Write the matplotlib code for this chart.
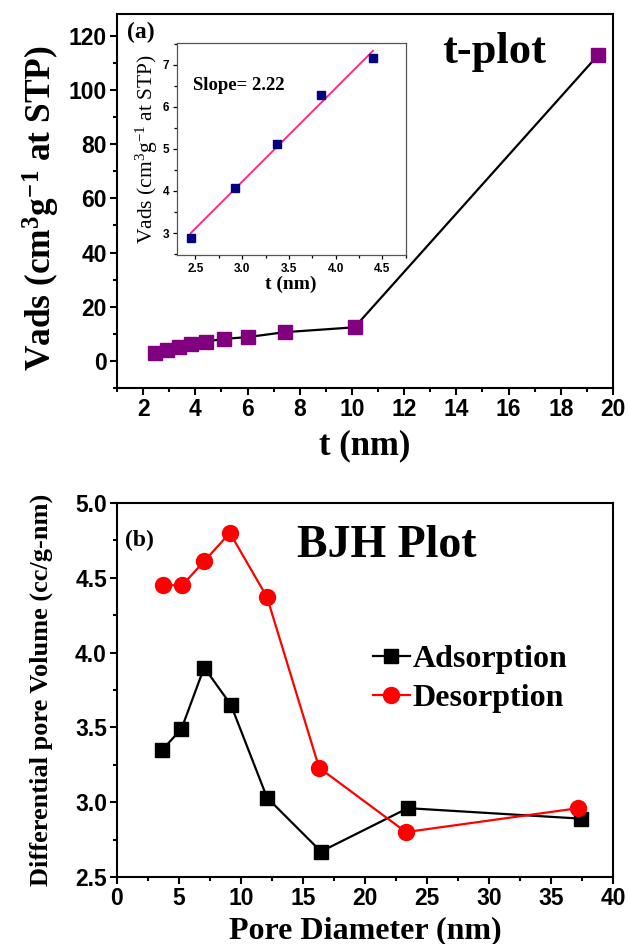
import numpy as np
import matplotlib
matplotlib.use("Agg")
import matplotlib.pyplot as plt
from matplotlib.ticker import MultipleLocator, FormatStrFormatter

# t-plot data (main panel)
t_nm = [2.45, 2.92, 3.37, 3.84, 4.40, 5.08, 6.02, 7.42, 10.1, 19.42]
v_ads = [2.88, 4.07, 5.12, 6.28, 7.15, 8.1, 8.8, 10.6, 12.4, 112.8]

# inset: linear region of the t-plot
t_fit = [2.45, 2.92, 3.37, 3.84, 4.40]
v_fit = [2.88, 4.07, 5.12, 6.28, 7.15]

# BJH data
d_ads = [3.65, 5.2, 7.03, 9.19, 12.1, 16.45, 23.45, 37.4]
pv_ads = [3.35, 3.49, 3.90, 3.65, 3.03, 2.67, 2.96, 2.89]
d_des = [3.7, 5.26, 7.03, 9.1, 12.1, 16.3, 23.3, 37.2]
pv_des = [4.45, 4.45, 4.61, 4.80, 4.37, 3.23, 2.80, 2.96]

plt.rcParams['mathtext.fontset'] = 'custom'
plt.rcParams['mathtext.rm'] = 'Liberation Serif'
plt.rcParams['mathtext.bf'] = 'Liberation Serif:bold'
plt.rcParams['mathtext.it'] = 'Liberation Serif:italic'

SERIF = 'Liberation Serif'
SANS = 'Liberation Sans'


def style_axes(ax, tick_size, lw=1.5, major=4.7, minor=3):
    for s in ax.spines.values():
        s.set_linewidth(lw)
    ax.tick_params(which='both', direction='out', top=False, right=False, width=lw)
    ax.tick_params(which='major', length=major, pad=2.5)
    ax.tick_params(which='minor', length=minor)
    for lab in ax.get_xticklabels() + ax.get_yticklabels():
        lab.set_fontfamily(SANS)
        lab.set_fontweight('bold')
        lab.set_fontsize(tick_size)


fig = plt.figure(figsize=(6.29, 9.44), dpi=100)

# ---- (a) t-plot ----
ax1 = fig.add_axes([0.186, 0.589, 0.7886, 0.396])
ax1.plot(t_nm, v_ads, color='black', lw=1.6, marker='s', markersize=9.5,
         markerfacecolor='#800080', markeredgecolor='#800080')
ax1.set_xlim(1, 20)
ax1.set_ylim(-10, 128)
ax1.xaxis.set_major_locator(MultipleLocator(2))
ax1.xaxis.set_minor_locator(MultipleLocator(1))
ax1.yaxis.set_major_locator(MultipleLocator(20))
ax1.yaxis.set_minor_locator(MultipleLocator(10))
style_axes(ax1, 16.5)
ax1.set_xlabel('t (nm)', fontfamily=SERIF, fontweight='bold', fontsize=25)
ax1.set_ylabel(r'Vads (cm$^{\mathbf{3}}$g$^{\mathbf{-1}}$ at STP)',
               fontfamily=SERIF, fontweight='bold', fontsize=25.5)
ax1.xaxis.set_label_coords(0.5, -0.11)
ax1.yaxis.set_label_coords(-0.11, 0.48)
ax1.text(0.02, 0.936, '(a)', transform=ax1.transAxes, fontfamily=SERIF,
         fontweight='bold', fontsize=17, va='baseline')
ax1.text(0.655, 0.869, 't-plot', transform=ax1.transAxes, fontfamily=SERIF,
         fontweight='bold', fontsize=32, va='baseline')

# inset with linear fit
axi = fig.add_axes([0.281, 0.730, 0.364, 0.2246])
slope, intercept = np.polyfit(t_fit, v_fit, 1)
xf = np.array([t_fit[0], t_fit[-1]])
axi.plot(xf, slope * xf + intercept, color='#ff1f7f', lw=1.3)
axi.plot(t_fit, v_fit, ls='none', marker='s', markersize=5.5,
         markerfacecolor='#000080', markeredgecolor='#000080')
axi.set_xlim(2.3, 4.75)
axi.set_ylim(2.48, 7.52)
axi.xaxis.set_major_locator(MultipleLocator(0.5))
axi.xaxis.set_minor_locator(MultipleLocator(0.25))
axi.yaxis.set_major_locator(MultipleLocator(1))
axi.yaxis.set_minor_locator(MultipleLocator(0.5))
style_axes(axi, 8.5, lw=0.9, major=3, minor=2)
for s in axi.spines.values():
    s.set_color('#555555')
axi.set_xlabel('t (nm)', fontfamily=SERIF, fontweight='bold', fontsize=14)
axi.set_ylabel(r'Vads (cm$^{3}$g$^{-1}$ at STP)', fontfamily=SERIF, fontsize=15.5)
axi.xaxis.set_label_coords(0.5, -0.1)
axi.yaxis.set_label_coords(-0.075, 0.5)
axi.text(0.07, 0.8, 'Slope= %.2f' % slope, transform=axi.transAxes,
         fontfamily=SERIF, fontweight='bold', fontsize=13.5, va='center')

# ---- (b) BJH plot ----
ax2 = fig.add_axes([0.186, 0.071, 0.7886, 0.3962])
ax2.plot(d_ads, pv_ads, color='black', lw=1.6, marker='s', markersize=10,
         label='Adsorption')
ax2.plot(d_des, pv_des, color='#ff0000', lw=1.6, marker='o', markersize=11.5,
         label='Desorption')
ax2.set_xlim(0, 40)
ax2.set_ylim(2.5, 5.0)
ax2.xaxis.set_major_locator(MultipleLocator(5))
ax2.xaxis.set_minor_locator(MultipleLocator(2.5))
ax2.yaxis.set_major_locator(MultipleLocator(0.5))
ax2.yaxis.set_minor_locator(MultipleLocator(0.25))
ax2.yaxis.set_major_formatter(FormatStrFormatter('%.1f'))
style_axes(ax2, 16.5)
ax2.set_xlabel('Pore Diameter (nm)', fontfamily=SERIF, fontweight='bold', fontsize=23)
ax2.set_ylabel('Differential pore Volume (cc/g-nm)', fontfamily=SERIF,
               fontweight='bold', fontsize=19)
ax2.xaxis.set_label_coords(0.5, -0.105)
ax2.yaxis.set_label_coords(-0.13, 0.5)
ax2.text(0.016, 0.885, '(b)', transform=ax2.transAxes, fontfamily=SERIF,
         fontweight='bold', fontsize=17, va='baseline')
ax2.text(0.363, 0.856, 'BJH Plot', transform=ax2.transAxes, fontfamily=SERIF,
         fontweight='bold', fontsize=33, va='baseline')
ax2.legend(loc='center left', bbox_to_anchor=(0.516, 0.53), frameon=False,
           prop={'family': SERIF, 'weight': 'bold', 'size': 23},
           handlelength=1.15, handletextpad=0.1, labelspacing=0.3,
           borderpad=0, borderaxespad=0)

fig.savefig('out.png', dpi=100)
